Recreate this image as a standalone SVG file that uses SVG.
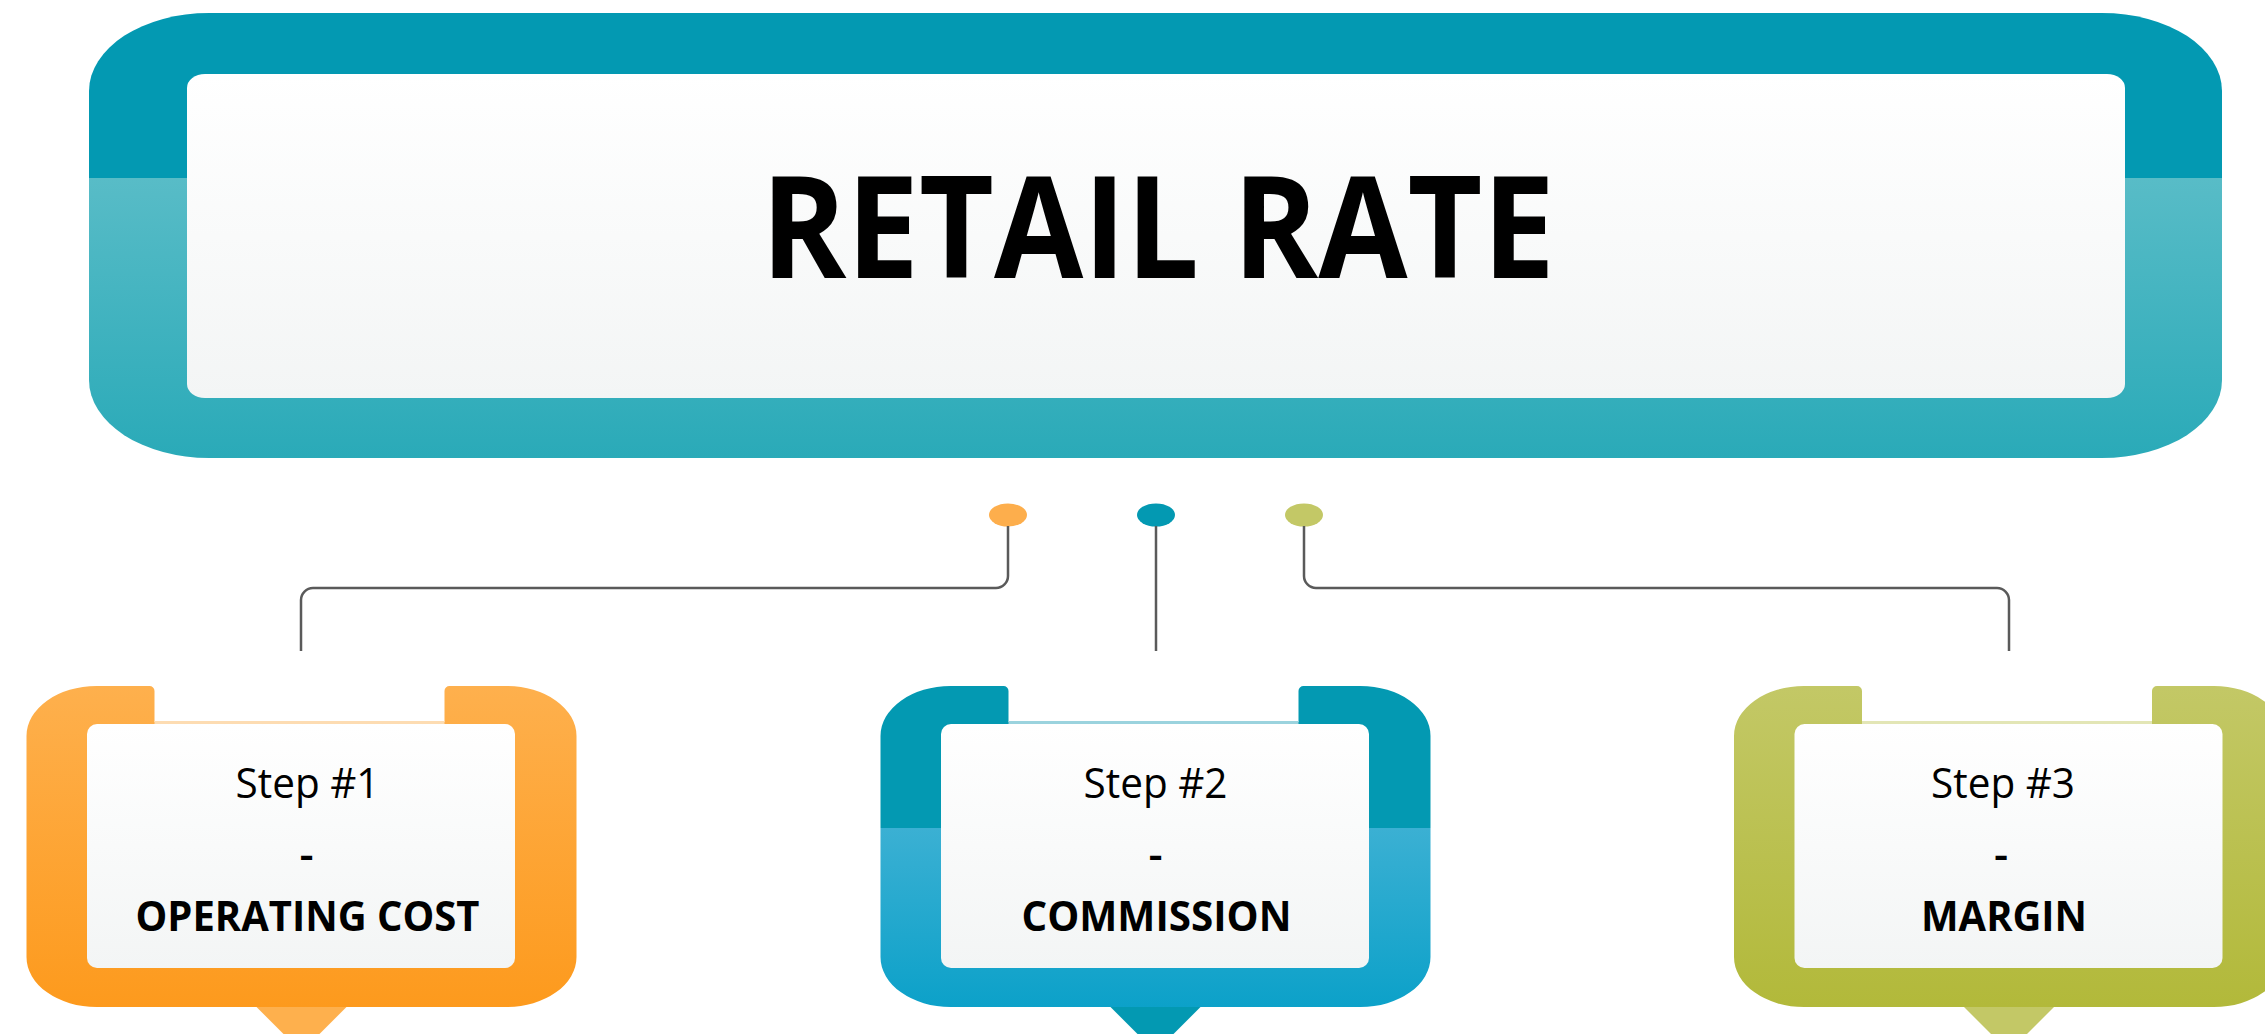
<svg xmlns="http://www.w3.org/2000/svg" width="2265" height="1034" viewBox="0 0 2265 1034">
<style>
.t{font-family:"Open Sans","Liberation Sans",sans-serif;fill:#000;text-anchor:middle}
.title{font-size:141px;font-weight:700}
.step{font-size:42px;font-weight:400}
.dash{font-size:44px;font-weight:600}
.lbl{font-size:42px;font-weight:700}
.wire{fill:none;stroke:#5a5a5a;stroke-width:2.5}
</style>
<defs>
<linearGradient id="gMain" gradientUnits="userSpaceOnUse" x1="0" y1="13" x2="0" y2="458">
<stop offset="0" stop-color="#0399B2"/><stop offset="0.371" stop-color="#0399B2"/>
<stop offset="0.371" stop-color="#58BCC7"/><stop offset="1" stop-color="#2AAAB8"/>
</linearGradient>
<linearGradient id="gWhite" x1="0" y1="0" x2="0" y2="1">
<stop offset="0" stop-color="#FFFFFF"/><stop offset="1" stop-color="#F3F5F5"/>
</linearGradient>
<linearGradient id="gOrange" gradientUnits="userSpaceOnUse" x1="0" y1="0" x2="0" y2="321">
<stop offset="0" stop-color="#FEB04D"/><stop offset="1" stop-color="#FD9A1D"/>
</linearGradient>
<linearGradient id="gTeal" gradientUnits="userSpaceOnUse" x1="0" y1="0" x2="0" y2="321">
<stop offset="0" stop-color="#0399B2"/><stop offset="0.442" stop-color="#0399B2"/>
<stop offset="0.442" stop-color="#3BB0D3"/><stop offset="1" stop-color="#0CA1C9"/>
</linearGradient>
<linearGradient id="gGreen" gradientUnits="userSpaceOnUse" x1="0" y1="0" x2="0" y2="321">
<stop offset="0" stop-color="#C3C866"/><stop offset="1" stop-color="#B2B93A"/>
</linearGradient>
<path id="frame" d="M -205 0 H -152 A 5 5 0 0 1 -147 5 V 36 H 143 V 5 A 5 5 0 0 1 148 0 H 205 A 70 50 0 0 1 275 50 V 271 A 70 50 0 0 1 205 321 H -205 A 70 50 0 0 1 -275 271 V 50 A 70 50 0 0 1 -205 0 Z"/>
</defs>
<rect width="2265" height="1034" fill="#FFFFFF"/>

<g id="retail-rate">
<rect x="89" y="13" width="2133" height="445" rx="120" ry="78" fill="url(#gMain)"/>
<rect x="187" y="74" width="1938" height="324" rx="18" ry="14" fill="url(#gWhite)"/>
<text class="t title" x="1158" y="278" textLength="794" lengthAdjust="spacingAndGlyphs">RETAIL RATE</text>
</g>

<g id="connectors">
<ellipse cx="1008" cy="515" rx="19" ry="11.5" fill="#FDAE4C"/>
<ellipse cx="1156" cy="515" rx="19" ry="11.5" fill="#0399B2"/>
<ellipse cx="1304" cy="515" rx="19" ry="11.5" fill="#C3C866"/>
<path class="wire" d="M 1008 526 V 576 A 12 12 0 0 1 996 588 H 313 A 12 12 0 0 0 301 600 V 651"/>
<path class="wire" d="M 1156 526 V 651"/>
<path class="wire" d="M 1304 526 V 576 A 12 12 0 0 0 1316 588 H 1997 A 12 12 0 0 1 2009 600 V 651"/>
</g>

<g id="step1" transform="translate(301.5,686)">
<polygon points="-56,310 56,310 0,366" fill="#FEB04D"/>
<use href="#frame" fill="url(#gOrange)"/>
<rect x="-147" y="35" width="290" height="3" fill="#FDDCB2"/>
<rect x="-214.5" y="38" width="428" height="244" rx="10" fill="url(#gWhite)"/>
<text class="t step" x="6" y="112" textLength="144" lengthAdjust="spacingAndGlyphs">Step #1</text>
<text class="t dash" x="5" y="184">-</text>
<text class="t lbl" x="6" y="245" textLength="344" lengthAdjust="spacingAndGlyphs">OPERATING COST</text>
</g>

<g id="step2" transform="translate(1155.5,686)">
<polygon points="-56,310 56,310 0,366" fill="#0399B2"/>
<use href="#frame" fill="url(#gTeal)"/>
<rect x="-147" y="35" width="290" height="3" fill="#9BD3DE"/>
<rect x="-214.5" y="38" width="428" height="244" rx="10" fill="url(#gWhite)"/>
<text class="t step" x="0" y="112" textLength="144" lengthAdjust="spacingAndGlyphs">Step #2</text>
<text class="t dash" x="0" y="184">-</text>
<text class="t lbl" x="1" y="245" textLength="270" lengthAdjust="spacingAndGlyphs">COMMISSION</text>
</g>

<g id="step3" transform="translate(2009,686)">
<polygon points="-56,310 56,310 0,366" fill="#C3C866"/>
<use href="#frame" fill="url(#gGreen)"/>
<rect x="-147" y="35" width="290" height="3" fill="#E3E6B6"/>
<rect x="-214.5" y="38" width="428" height="244" rx="10" fill="url(#gWhite)"/>
<text class="t step" x="-6" y="112" textLength="144" lengthAdjust="spacingAndGlyphs">Step #3</text>
<text class="t dash" x="-8" y="184">-</text>
<text class="t lbl" x="-5" y="245" textLength="166" lengthAdjust="spacingAndGlyphs">MARGIN</text>
</g>
</svg>
